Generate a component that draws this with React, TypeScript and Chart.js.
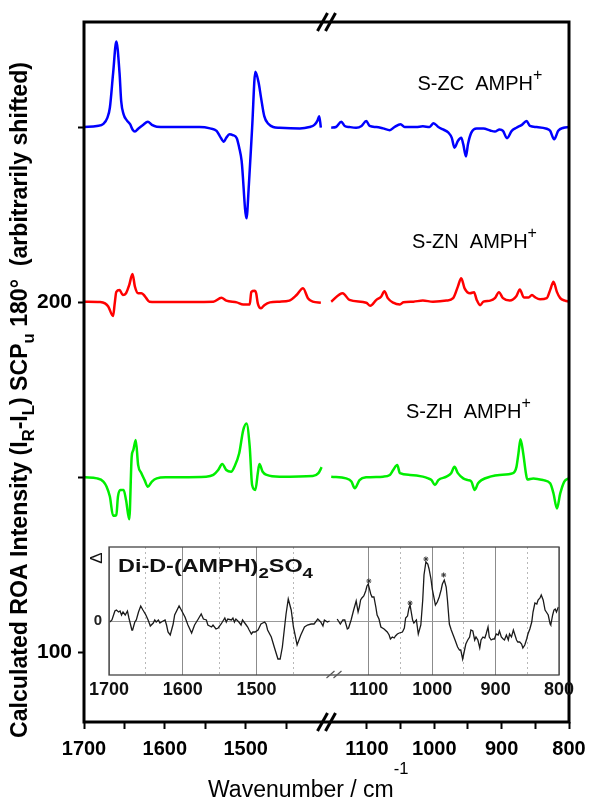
import React, { useEffect, useRef } from "react";
import { Chart, registerables } from "chart.js";

Chart.register(...registerables);

const FONT = "'Liberation Sans', Arial, Helvetica, sans-serif";

// ---------------- main chart axes ----------------
const LEFT_WN_RANGE = [1400, 1700];
const RIGHT_WN_RANGE = [800, 1160];
const Y_RANGE = [80, 280];
const X_TICKS_LEFT = [1700, 1650, 1600, 1550, 1500, 1450];
const X_TICKS_RIGHT = [1100, 1050, 1000, 950, 900, 850, 800];
const Y_TICKS = [100, 150, 200, 250];
const Y_TICK_LABELS = [100, 200];

const SERIES_NAMES = ["S-ZC", "S-ZN", "S-ZH"];
const SERIES_ION = "AMPH";

// ---------------- main chart data [wavenumber, intensity] ----------------
const SZC_LEFT = [
  [1700, 250], [1684, 250.3], [1676, 250.9], [1671, 252.7], [1668, 255.5], [1664, 265.3], [1660, 274.4],
  [1656, 265.3], [1654, 257.4], [1651, 253.6], [1647, 251.9], [1643, 250.8], [1640, 249.3], [1637, 248.7],
  [1633, 249.5], [1627, 250.6], [1621, 251.5], [1616, 250.6], [1610, 250.1], [1598, 250], [1557, 250],
  [1544, 249.6], [1536, 248.9], [1532, 247.4], [1527, 245.8], [1524, 246.9], [1520, 247.9], [1516, 247.7],
  [1511, 246.8], [1508, 244.1], [1505, 240.3], [1499, 223.9], [1496, 233.6], [1492, 249.8], [1488, 265.8],
  [1484, 262.7], [1481, 258.4], [1477, 253.1], [1472, 250.9], [1466, 250], [1458, 249.8], [1433, 249.6],
  [1421, 250], [1415, 250.6], [1411, 251.9], [1409, 253.1], [1407, 249.8],
];
const SZC_RIGHT = [
  [1153, 249.8], [1146, 250], [1138, 251.5], [1133, 250.3], [1126, 250], [1116, 249.8], [1108, 250.3],
  [1101, 251.7], [1096, 250.3], [1086, 250], [1076, 249.6], [1066, 249.1], [1059, 250], [1050, 250.8],
  [1044, 250], [1027, 250], [1017, 250.2], [1007, 250], [1001, 251.1], [994, 250], [987, 249.3],
  [979, 248.4], [974, 246.9], [970, 244.1], [965, 246], [960, 246.9], [957, 245.1], [953, 241.6],
  [950, 245.1], [945, 248.4], [937, 249.6], [927, 249.6], [917, 249], [910, 248.7], [903, 249.3],
  [898, 248.9], [892, 246.8], [885, 248.9], [878, 249.8], [870, 250.6], [863, 251.7], [858, 250.3],
  [848, 250], [833, 249.5], [828, 248.9], [822, 246.5], [816, 248.9], [808, 249.8], [800, 250],
];
const SZN_LEFT = [
  [1699, 200.1], [1680, 200], [1674, 199.6], [1670, 198.7], [1664, 196], [1662, 199.6], [1660, 202.9],
  [1656, 203.4], [1652, 202], [1648, 202.5], [1644, 204.9], [1640, 208], [1637, 204.4], [1633, 202.5],
  [1629, 202.5], [1626, 202], [1623, 201.1], [1619, 200.1], [1602, 200], [1540, 200.1], [1530, 201.2],
  [1524, 200.4], [1511, 199.9], [1503, 199.3], [1495, 199.3], [1493, 202.9], [1489, 203.2], [1487, 202.5],
  [1485, 199.6], [1481, 198.2], [1477, 199.1], [1470, 199.9], [1458, 200.1], [1446, 200.4], [1437, 202],
  [1429, 203.9], [1423, 201.1], [1417, 200.1], [1407, 199.8],
];
const SZN_RIGHT = [
  [1153, 200.1], [1136, 202.5], [1126, 200.6], [1101, 199.8], [1095, 198.9], [1086, 200.6], [1079, 201.5],
  [1074, 203.1], [1069, 201.1], [1061, 199.8], [1051, 199.3], [1046, 199.9], [1031, 200.1], [1017, 200.4],
  [1002, 200.1], [982, 200.4], [972, 201.1], [965, 204.4], [960, 206.8], [955, 203.9], [947, 202.5],
  [941, 202.8], [937, 200.6], [932, 199.1], [927, 200.1], [917, 200.4], [910, 201.1], [904, 202.8],
  [898, 201.1], [888, 200.4], [878, 201.7], [873, 203.6], [867, 201.3], [860, 201.3], [855, 202],
  [850, 201.3], [843, 200.8], [833, 201.1], [828, 203.4], [823, 205.8], [818, 202.9], [813, 201.1],
  [806, 200.4], [800, 200.1],
];
const SZH_LEFT = [
  [1699, 149.9], [1684, 149.6], [1676, 148.7], [1672, 147.2], [1668, 144.4], [1664, 138.9], [1660, 139.1],
  [1658, 144.4], [1655, 146.3], [1651, 146.3], [1648, 143.4], [1644, 137.9], [1641, 155.8], [1639, 157.7],
  [1636, 160.6], [1633, 153.4], [1629, 151.1], [1625, 149.1], [1621, 147.2], [1616, 148.7], [1610, 149.6],
  [1598, 149.9], [1549, 150.1], [1540, 150.6], [1534, 152], [1529, 153.7], [1524, 152], [1518, 151.5],
  [1514, 152.9], [1508, 156.8], [1503, 163.4], [1499, 165.3], [1495, 158.7], [1492, 147.7], [1488, 146.3],
  [1485, 151.1], [1483, 153.7], [1479, 151.5], [1474, 150.6], [1458, 150.1], [1417, 150.3], [1410, 151.1],
  [1406, 152.8],
];
const SZH_RIGHT = [
  [1153, 150.1], [1131, 149.6], [1123, 148.7], [1118, 146.8], [1111, 149.1], [1101, 149.9], [1076, 150.1],
  [1066, 150.6], [1061, 152], [1055, 153.4], [1051, 151.1], [1036, 150.6], [1017, 150.1], [1009, 149.6],
  [1004, 149.1], [999, 147.7], [994, 149.1], [982, 150.1], [975, 151.1], [970, 152.9], [965, 151.1],
  [957, 149.6], [950, 149.1], [945, 148.7], [940, 146.3], [935, 148.2], [930, 149.1], [917, 150.1],
  [903, 150.6], [883, 151.1], [878, 152.9], [875, 156.8], [872, 160.8], [868, 156.8], [864, 151.1],
  [862, 149.3], [853, 149.6], [838, 149.1], [828, 148.2], [823, 145.3], [818, 141], [813, 145.3],
  [807, 148.7], [800, 149.6],
];

// ---------------- inset (experimental spectrum) ----------------
const INSET_LEFT_RANGE = [1395, 1700];
const INSET_RIGHT_RANGE = [800, 1155];
const INSET_Y_RANGE = [-54, 74];
const INSET_TICKS_LEFT = [1700, 1650, 1600, 1550, 1500, 1450];
const INSET_TICKS_RIGHT = [1100, 1050, 1000, 950, 900, 850, 800];
const INSET_Y_TICKS = [0];

const INSET_LEFT = [
  [1699, -1], [1696, 1], [1692, 10], [1690, 11], [1687, 9], [1685, 10], [1683, 6], [1681, 9], [1678, 6],
  [1675, 10], [1673, 3], [1669, -9], [1668, -9], [1665, -1], [1663, 1], [1660, 9], [1657, 15], [1654, 11],
  [1650, 6], [1647, 1], [1644, -5], [1640, -2], [1638, 1], [1636, -1], [1633, 1], [1631, -2], [1629, -1],
  [1624, 1], [1622, -4], [1620, -11], [1617, -14], [1613, -3], [1611, 6], [1605, 15], [1602, 11], [1597, 4],
  [1593, -4], [1588, -12], [1584, -4], [1579, 2], [1575, 7], [1572, 2], [1568, 1], [1566, -4], [1561, -6],
  [1559, -4], [1555, -8], [1552, -7], [1548, -3], [1543, 3], [1541, -1], [1539, 2], [1534, 1], [1532, 3],
  [1530, -1], [1528, 2], [1524, -1], [1521, -4], [1519, 1], [1514, -4], [1512, -6], [1510, -9], [1507, -13],
  [1505, -11], [1502, -11], [1498, -9], [1494, -3], [1489, -1], [1487, -3], [1485, -9], [1480, -16],
  [1476, -26], [1471, -38], [1468, -38], [1465, -26], [1460, 7], [1457, 22], [1453, 11], [1450, -6],
  [1445, -24], [1442, -18], [1440, -14], [1435, -6], [1431, -4], [1426, -3], [1422, -3], [1417, 2],
  [1413, -1], [1410, -5], [1408, 1], [1404, -1], [1401, 0],
];
const INSET_RIGHT = [
  [1150, 2], [1145, -3], [1141, 1], [1138, 1], [1134, -8], [1132, -7], [1128, 1], [1124, 11], [1120, 20],
  [1117, 9], [1115, 14], [1113, 21], [1111, 23], [1108, 25], [1105, 30], [1103, 35], [1101, 37], [1097, 27],
  [1095, 24], [1092, 24], [1089, 14], [1087, 6], [1084, 2], [1081, -6], [1076, -8], [1071, -11], [1068, -14],
  [1066, -18], [1063, -16], [1060, -17], [1058, -15], [1055, -13], [1052, -12], [1047, -11], [1044, -7],
  [1042, 3], [1039, 5], [1037, 12], [1035, 16], [1031, 1], [1029, -2], [1025, 1], [1022, -13], [1018, -4],
  [1015, 21], [1013, 46], [1010, 59], [1007, 57], [1005, 52], [1002, 42], [1000, 32], [995, 16], [992, 19],
  [989, 24], [986, 31], [984, 37], [981, 41], [978, 34], [976, 21], [973, -3], [970, -9], [967, -14],
  [964, -19], [960, -26], [957, -29], [955, -29], [952, -38], [949, -29], [947, -23], [944, -19], [941, -16],
  [939, -9], [936, -10], [933, -19], [931, -16], [928, -19], [925, -27], [923, -19], [920, -16], [917, -17],
  [915, -13], [912, -6], [910, -16], [907, -19], [904, -18], [902, -18], [899, -13], [896, -14], [894, -10],
  [891, -16], [888, -18], [886, -19], [883, -14], [880, -19], [878, -13], [875, -16], [872, -9], [870, -13],
  [867, -19], [865, -21], [862, -21], [859, -23], [857, -27], [854, -24], [851, -18], [849, -13], [846, -8],
  [843, -1], [841, 9], [838, 18], [835, 17], [833, 21], [830, 23], [828, 26], [825, 21], [822, 11], [820, 9],
  [817, 6], [814, -3], [813, -4], [810, 6], [808, 11], [806, 12], [804, 9], [801, 14],
];
const INSET_STARS = [[1100, 40], [1035, 18], [1010, 62], [982, 46]];

// ---------------- styles ----------------
const SERIES_COLORS = ["#0000ff", "#ff0000", "#00ee00"];
const LABEL_ANCHORS = [[1025, 260.6], [1033, 215.4], [1042, 166.9]];

type Part = { t: string; s?: "sub" | "sup" };

function drawRich(
  ctx: CanvasRenderingContext2D,
  parts: Part[],
  x: number,
  y: number,
  size: number,
  weight: string,
  o: { scale: number; subDy: number; supDy: number },
  draw = true
) {
  let cx = x;
  for (const p of parts) {
    const sz = p.s ? size * o.scale : size;
    ctx.font = `${weight} ${sz}px ${FONT}`;
    const dy = p.s === "sub" ? o.subDy * size : p.s === "sup" ? -o.supDy * size : 0;
    if (draw) ctx.fillText(p.t, cx, y + dy);
    cx += ctx.measureText(p.t).width;
  }
  return cx - x;
}

const toXY = (pairs: number[][]) => pairs.map(([x, y]) => ({ x, y }));

const mainDecor = {
  id: "mainDecor",
  afterDraw(chart: any) {
    const ctx: CanvasRenderingContext2D = chart.ctx;
    const a = chart.chartArea;
    ctx.save();
    ctx.strokeStyle = "#000";
    ctx.lineWidth = 3;
    ctx.strokeRect(a.left, a.top, a.right - a.left, a.bottom - a.top);
    // axis break marks
    const bx = chart.scales.xR.left;
    ctx.lineWidth = 3;
    for (const by of [a.top, a.bottom]) {
      for (const off of [-4, 4]) {
        ctx.beginPath();
        ctx.moveTo(bx + off - 5, by + 9);
        ctx.lineTo(bx + off + 5, by - 9);
        ctx.stroke();
      }
    }
    ctx.fillStyle = "#000";
    ctx.textBaseline = "alphabetic";
    ctx.textAlign = "left";
    // series labels
    SERIES_NAMES.forEach((name, i) => {
      const px = chart.scales.xR.getPixelForValue(LABEL_ANCHORS[i][0]);
      const py = chart.scales.y.getPixelForValue(LABEL_ANCHORS[i][1]);
      drawRich(ctx, [{ t: `${name}  ${SERIES_ION}` }, { t: "+", s: "sup" }], px, py, 20, "normal", {
        scale: 0.8,
        subDy: 0.3,
        supDy: 0.5,
      });
    });
    // x title
    drawRich(ctx, [{ t: "Wavenumber / cm" }, { t: "-1", s: "sup" }], 208, 797, 23, "normal", {
      scale: 0.72,
      subDy: 0.3,
      supDy: 0.98,
    });
    // y title
    const yParts: Part[] = [
      { t: "Calculated ROA Intensity (I" },
      { t: "R", s: "sub" },
      { t: "-I" },
      { t: "L", s: "sub" },
      { t: ") SCP" },
      { t: "u", s: "sub" },
      { t: " 180\u00B0  (arbitrarily shifted)" },
    ];
    const ro = { scale: 0.72, subDy: 0.3, supDy: 0.5 };
    const w0 = drawRich(ctx, yParts, 0, 0, 20, "bold", ro, false);
    const size = (20 * 676) / w0;
    const w = drawRich(ctx, yParts, 0, 0, size, "bold", ro, false);
    ctx.translate(27, 400);
    ctx.rotate(-Math.PI / 2);
    drawRich(ctx, yParts, -w / 2, 0, size, "bold", ro);
    ctx.restore();
  },
};

const insetDecor = {
  id: "insetDecor",
  afterDraw(chart: any) {
    const ctx: CanvasRenderingContext2D = chart.ctx;
    const a = chart.chartArea;
    ctx.save();
    ctx.strokeStyle = "#444";
    ctx.lineWidth = 1.3;
    ctx.strokeRect(a.left, a.top, a.right - a.left, a.bottom - a.top);
    const bx = chart.scales.ixR.left;
    ctx.strokeStyle = "#555";
    ctx.lineWidth = 1.2;
    for (const off of [-3.5, 3.5]) {
      ctx.beginPath();
      ctx.moveTo(bx + off - 4, a.bottom + 3);
      ctx.lineTo(bx + off + 4, a.bottom - 4);
      ctx.stroke();
    }
    ctx.fillStyle = "#111";
    ctx.textAlign = "left";
    ctx.textBaseline = "alphabetic";
    const tParts: Part[] = [{ t: "Di-D-(AMPH)" }, { t: "2", s: "sub" }, { t: "SO" }, { t: "4", s: "sub" }];
    const to = { scale: 0.8, subDy: 0.3, supDy: 0.5 };
    const tw = drawRich(ctx, tParts, 0, 0, 19, "bold", to, false);
    ctx.save();
    ctx.translate(a.left + 9, a.top + 25);
    ctx.scale(195 / tw, 1);
    drawRich(ctx, tParts, 0, 0, 19, "bold", to);
    ctx.restore();
    ctx.translate(a.left - 12, a.top + 11);
    ctx.rotate(-Math.PI / 2);
    ctx.font = `normal 17px ${FONT}`;
    ctx.textAlign = "center";
    ctx.textBaseline = "middle";
    ctx.fillText("\u0394", 0, 0);
    ctx.restore();
  },
};

function xAxis(range: number[], ticks: number[], weight: number, font: any, opts: any) {
  return {
    type: "linear",
    position: "bottom",
    stack: opts.stack,
    stackWeight: 1,
    weight,
    reverse: true,
    min: range[0],
    max: range[1],
    afterBuildTicks: (s: any) => {
      s.ticks = ticks.map((v) => ({ value: v }));
    },
    afterFit: (s: any) => {
      s.height = opts.height;
      s.paddingLeft = 0;
      s.paddingRight = 0;
    },
    grid: opts.grid,
    border: opts.border,
    ticks: {
      autoSkip: false,
      maxRotation: 0,
      minRotation: 0,
      color: opts.color,
      padding: opts.padding,
      font,
      callback: (v: number) => (v % 100 === 0 ? String(v) : ""),
    },
  };
}

function mainConfig(): any {
  const font = { family: FONT, size: 20, weight: "bold" };
  const mainGrid = { display: true, drawOnChartArea: false, drawTicks: true, tickLength: 7, tickWidth: 2, tickColor: "#000" };
  const mopts = { stack: "mx", height: 79, grid: mainGrid, border: { display: false }, color: "#000", padding: 8 };
  const series = [
    [SZC_LEFT, SZC_RIGHT],
    [SZN_LEFT, SZN_RIGHT],
    [SZH_LEFT, SZH_RIGHT],
  ];
  const datasets: any[] = [];
  series.forEach(([l, r], i) => {
    for (const [data, axis] of [[l, "xL"], [r, "xR"]] as any) {
      datasets.push({
        data: toXY(data),
        xAxisID: axis,
        yAxisID: "y",
        borderColor: SERIES_COLORS[i],
        borderWidth: 2.5,
        pointRadius: 0,
        cubicInterpolationMode: "monotone",
        fill: false,
      });
    }
  });
  return {
    type: "line",
    data: { datasets },
    options: {
      animation: false,
      responsive: false,
      maintainAspectRatio: false,
      layout: { padding: { left: 0, top: 22, right: 20, bottom: 0 }, autoPadding: false },
      plugins: { legend: { display: false }, tooltip: { enabled: false } },
      scales: {
        xL: xAxis(LEFT_WN_RANGE, X_TICKS_LEFT, 1, font, mopts),
        xR: xAxis(RIGHT_WN_RANGE, X_TICKS_RIGHT, 2, font, mopts),
        y: {
          type: "linear",
          position: "left",
          min: Y_RANGE[0],
          max: Y_RANGE[1],
          afterBuildTicks: (s: any) => {
            s.ticks = Y_TICKS.map((v) => ({ value: v }));
          },
          afterFit: (s: any) => {
            s.width = 84;
            s.paddingTop = 0;
            s.paddingBottom = 0;
          },
          grid: { display: true, drawOnChartArea: false, drawTicks: true, tickLength: 6, tickWidth: 2, tickColor: "#000" },
          border: { display: false },
          ticks: {
            color: "#000",
            padding: 6,
            font: { family: FONT, size: 21, weight: "bold" },
            callback: (v: number) => (Y_TICK_LABELS.includes(v) ? String(v) : ""),
          },
        },
      },
    },
    plugins: [mainDecor],
  };
}

function insetConfig(): any {
  const font = { family: FONT, size: 18, weight: "bold" };
  const grid = {
    display: true,
    drawOnChartArea: true,
    drawTicks: false,
    lineWidth: 1,
    color: (c: any) => (c.tick && c.tick.value % 100 === 0 ? "#8c8c8c" : "#b8b8b8"),
  };
  const border = {
    display: false,
    dash: (c: any) => (c.tick && c.tick.value % 100 !== 0 ? [2, 3] : []),
  };
  const iopts = { stack: "ix", height: 25, grid, border, color: "#111", padding: 4 };
  return {
    type: "line",
    data: {
      datasets: [
        {
          data: toXY(INSET_LEFT),
          xAxisID: "ixL",
          yAxisID: "iy",
          borderColor: "#1a1a1a",
          borderWidth: 1.3,
          pointRadius: 0,
          tension: 0,
        },
        {
          data: toXY(INSET_RIGHT),
          xAxisID: "ixR",
          yAxisID: "iy",
          borderColor: "#1a1a1a",
          borderWidth: 1.3,
          pointRadius: 0,
          tension: 0,
        },
        {
          data: toXY(INSET_STARS),
          xAxisID: "ixR",
          yAxisID: "iy",
          showLine: false,
          pointStyle: "star",
          pointRadius: 2.5,
          pointBorderWidth: 1,
          pointBorderColor: "#333",
        },
      ],
    },
    options: {
      animation: false,
      responsive: false,
      maintainAspectRatio: false,
      layout: { padding: { left: 0, top: 9, right: 17, bottom: 0 }, autoPadding: false },
      plugins: { legend: { display: false }, tooltip: { enabled: false } },
      scales: {
        ixL: xAxis(INSET_LEFT_RANGE, INSET_TICKS_LEFT, 1, font, iopts),
        ixR: xAxis(INSET_RIGHT_RANGE, INSET_TICKS_RIGHT, 2, font, iopts),
        iy: {
          type: "linear",
          position: "left",
          min: INSET_Y_RANGE[0],
          max: INSET_Y_RANGE[1],
          afterBuildTicks: (s: any) => {
            s.ticks = INSET_Y_TICKS.map((v) => ({ value: v }));
          },
          afterFit: (s: any) => {
            s.width = 23;
            s.paddingTop = 0;
            s.paddingBottom = 0;
          },
          grid: { display: true, drawOnChartArea: true, drawTicks: false, color: "#999", lineWidth: 1 },
          border: { display: false },
          ticks: { color: "#222", padding: 7, font: { family: FONT, size: 15, weight: "bold" } },
        },
      },
    },
    plugins: [insetDecor],
  };
}

export default function App() {
  const mainRef = useRef<HTMLCanvasElement>(null);
  const insetRef = useRef<HTMLCanvasElement>(null);
  useEffect(() => {
    const main = new Chart(mainRef.current as HTMLCanvasElement, mainConfig());
    const inset = new Chart(insetRef.current as HTMLCanvasElement, insetConfig());
    return () => {
      main.destroy();
      inset.destroy();
    };
  }, []);
  return (
    <div style={{ position: "absolute", left: 0, top: 0, width: 589, height: 801, background: "#fff" }}>
      <canvas ref={mainRef} width={589} height={801} style={{ position: "absolute", left: 0, top: 0 }} />
      <canvas ref={insetRef} width={490} height={162} style={{ position: "absolute", left: 86, top: 538 }} />
    </div>
  );
}
